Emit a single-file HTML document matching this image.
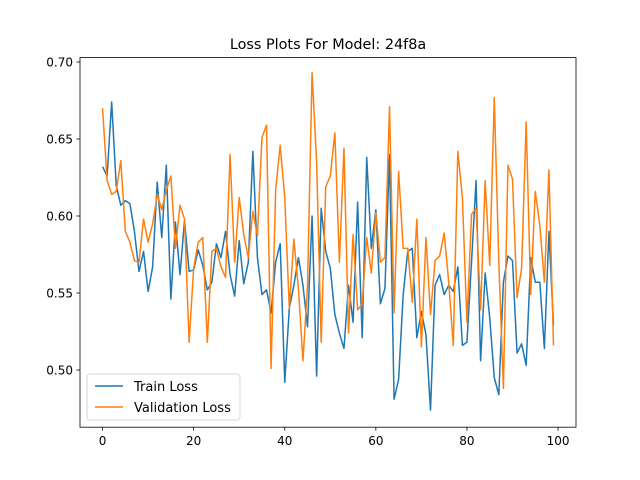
<!DOCTYPE html>
<html><head><meta charset="utf-8"><style>
body{margin:0;background:#fff;}
svg{display:block;font-family:"DejaVu Sans","Liberation Sans",sans-serif;}
</style></head><body>
<svg id="chart" width="640" height="480" xmlns="http://www.w3.org/2000/svg">
<rect width="640" height="480" fill="#fff"/>
<text x="328" y="49" font-size="14.4" text-anchor="middle">Loss Plots For Model: 24f8a</text>
<g id="plot"></g>
<rect x="80" y="57.6" width="496" height="369.6" fill="none" stroke="#000" stroke-width="0.8"/>
<g>
<rect x="87" y="374" width="153" height="46" rx="3" fill="#fff" fill-opacity="0.8" stroke="#ccc" stroke-width="0.8"/>
<line x1="95" y1="386" x2="123" y2="386" stroke="#1f77b4" stroke-width="1.5"/>
<text x="134" y="391" font-size="13">Train Loss</text>
<line x1="95" y1="407" x2="123" y2="407" stroke="#ff7f0e" stroke-width="1.5"/>
<text x="134" y="412" font-size="13">Validation Loss</text>
</g>
</svg>
<script>
const train=[0.632,0.626,0.674,0.620,0.607,0.610,0.608,0.590,0.564,0.577,0.551,0.567,0.622,0.586,0.633,0.546,0.596,0.562,0.597,0.564,0.565,0.578,0.568,0.552,0.557,0.582,0.573,0.590,0.562,0.548,0.584,0.556,0.570,0.642,0.573,0.549,0.552,0.537,0.570,0.582,0.492,0.540,0.555,0.573,0.555,0.528,0.600,0.496,0.605,0.577,0.566,0.536,0.524,0.514,0.555,0.531,0.609,0.521,0.638,0.579,0.604,0.543,0.553,0.640,0.481,0.494,0.549,0.577,0.579,0.521,0.538,0.523,0.474,0.555,0.562,0.549,0.555,0.551,0.567,0.516,0.518,0.570,0.623,0.506,0.563,0.534,0.495,0.484,0.557,0.574,0.571,0.511,0.517,0.503,0.573,0.557,0.557,0.514,0.590,0.529];
const val=[0.670,0.623,0.614,0.616,0.636,0.590,0.583,0.571,0.570,0.598,0.583,0.595,0.614,0.604,0.617,0.626,0.579,0.607,0.598,0.518,0.566,0.583,0.586,0.518,0.577,0.579,0.567,0.560,0.640,0.570,0.612,0.588,0.573,0.603,0.587,0.651,0.659,0.501,0.617,0.646,0.612,0.540,0.585,0.553,0.506,0.555,0.693,0.635,0.518,0.619,0.626,0.654,0.570,0.644,0.524,0.588,0.539,0.543,0.586,0.563,0.602,0.570,0.573,0.671,0.537,0.629,0.579,0.579,0.544,0.598,0.515,0.586,0.536,0.571,0.574,0.589,0.557,0.516,0.642,0.612,0.531,0.601,0.605,0.539,0.623,0.568,0.677,0.570,0.488,0.633,0.624,0.547,0.566,0.661,0.549,0.616,0.594,0.557,0.630,0.516];
const xTicks=[0,20,40,60,80,100];
const yTicks=[0.50,0.55,0.60,0.65,0.70];
const NS="http://www.w3.org/2000/svg";
const X=v=>80+(v+4.95)*4.555;
const Y=v=>62+(0.70-v)*1540;
const svg=document.getElementById('chart');
const plot=document.getElementById('plot');
function mk(t,a,p){const e=document.createElementNS(NS,t);for(const k in a)e.setAttribute(k,a[k]);(p||svg).appendChild(e);return e;}
xTicks.forEach(t=>{
 const l=mk('line',{x1:X(t),x2:X(t),y1:427.2,y2:430.7,stroke:'#000','stroke-width':0.8});
 
 
 const tx=mk('text',{x:X(t),y:445,'font-size':12,'text-anchor':'middle'});tx.textContent=t;
 
 
});
yTicks.forEach(t=>{
 const l=mk('line',{x1:76.5,x2:80,y1:Y(t),y2:Y(t),stroke:'#000','stroke-width':0.8});
 
 
 const tx=mk('text',{x:73,y:Y(t)+4.5,'font-size':12,'text-anchor':'end'});tx.textContent=t.toFixed(2);
 
 
});
function line(d,c,n){
 const p=mk('polyline',{points:d.map((v,i)=>X(i)+','+Y(v)).join(' '),fill:'none',stroke:c,'stroke-width':1.5,'stroke-linejoin':'round'},plot);
 
 
}
line(train,'#1f77b4','train-loss-line');
line(val,'#ff7f0e','validation-loss-line');
</script>
</body></html>
